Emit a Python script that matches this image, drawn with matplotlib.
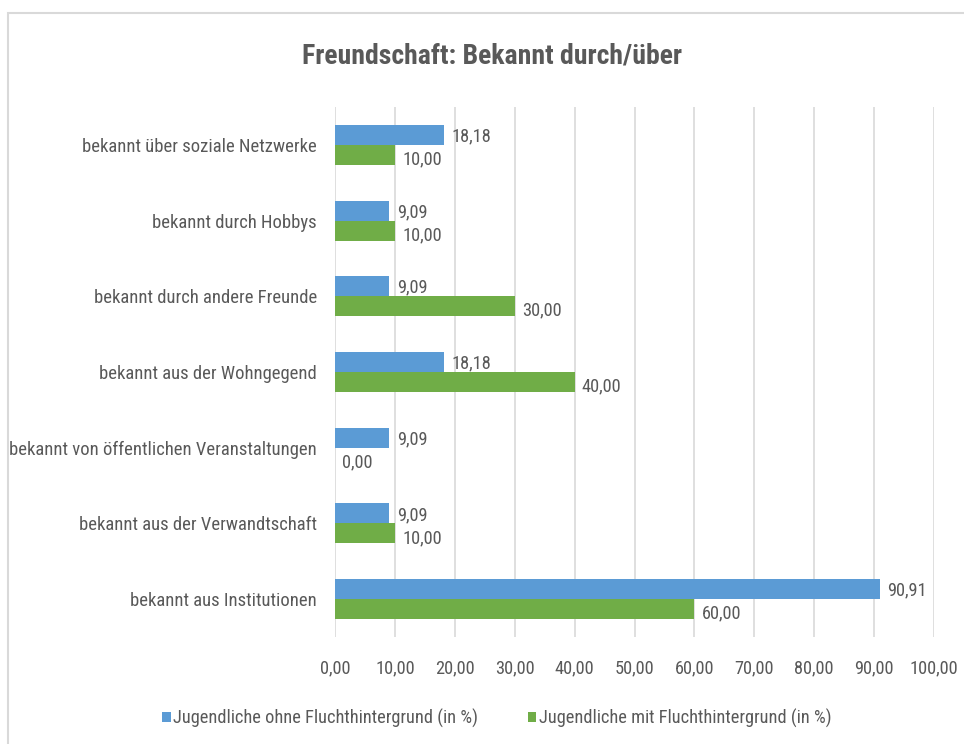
import matplotlib
matplotlib.use('Agg')
import matplotlib.pyplot as plt
from matplotlib.patches import Rectangle
import numpy as np

# data (top to bottom as shown in the chart)
categories = [
    'bekannt über soziale Netzwerke',
    'bekannt durch Hobbys',
    'bekannt durch andere Freunde',
    'bekannt aus der Wohngegend',
    'bekannt von öffentlichen Veranstaltungen',
    'bekannt aus der Verwandtschaft',
    'bekannt aus Institutionen',
]
ohne_flucht = [18.18, 9.09, 9.09, 18.18, 9.09, 9.09, 90.91]
mit_flucht = [10.00, 10.00, 30.00, 40.00, 0.00, 10.00, 60.00]
series_names = ['Jugendliche ohne Fluchthintergrund (in %)',
                'Jugendliche mit Fluchthintergrund (in %)']
x_ticks = [0, 10, 20, 30, 40, 50, 60, 70, 80, 90, 100]

BLUE = '#5B9BD5'
GREEN = '#70AD47'
TXT = '#595959'

plt.rcParams['font.family'] = ['Liberation Sans Narrow', 'DejaVu Sans Condensed',
                               'Roboto Condensed', 'Noto Sans Condensed', 'DejaVu Sans']
plt.rcParams['font.stretch'] = 'condensed'

def fmt(v):
    return f'{v:.2f}'.replace('.', ',')

fig = plt.figure(figsize=(9.64, 7.44), dpi=100)
# chart frame (cropped at right/bottom in reference)
fig.patches.append(Rectangle((8 / 964, -0.1), 1.2, (744 - 13) / 744 + 0.1,
                             transform=fig.transFigure, fill=False,
                             edgecolor='#D9D9D9', linewidth=1.5))

ax = fig.add_axes([335 / 964, 1 - 637 / 744, (934 - 335) / 964, (637 - 107) / 744])

y = np.arange(len(categories))
h = 0.264
ax.barh(y - h / 2, ohne_flucht, height=h, color=BLUE, label=series_names[0], zorder=3)
ax.barh(y + h / 2, mit_flucht, height=h, color=GREEN, label=series_names[1], zorder=3)

fs = 13.2
for yi, v in zip(y, ohne_flucht):
    ax.text(v + 1.2, yi - h / 2 + 0.02, fmt(v), va='center', ha='left',
            fontsize=fs, color=TXT)
for yi, v in zip(y, mit_flucht):
    ax.text(v + 1.2, yi + h / 2 + 0.06, fmt(v), va='center', ha='left',
            fontsize=fs, color=TXT)

ax.set_ylim(len(categories) - 0.5, -0.5)
ax.set_xlim(0, 100)
ax.set_yticks(y)
ax.set_yticklabels(categories, fontsize=13.4, color=TXT)
ax.set_xticks(x_ticks)
ax.set_xticklabels([fmt(t) for t in x_ticks], fontsize=fs, color=TXT)
ax.tick_params(axis='y', length=0, pad=13)
ax.tick_params(axis='x', length=0, pad=16)
ax.grid(axis='x', color='#D9D9D9', linewidth=1.2, zorder=0)
for s in ax.spines.values():
    s.set_visible(False)

fig.text(492 / 964, 1 - 56 / 744, 'Freundschaft: Bekannt durch/über',
         ha='center', va='center', fontsize=20, fontweight='bold', color=TXT)

fig.legend(loc='center', bbox_to_anchor=(497 / 964, 1 - 718 / 744), ncol=2,
           frameon=False, fontsize=fs, labelcolor=TXT, handlelength=0.45,
           handleheight=0.5, handletextpad=0.15, columnspacing=2.7)

fig.savefig('out.png', dpi=100)
